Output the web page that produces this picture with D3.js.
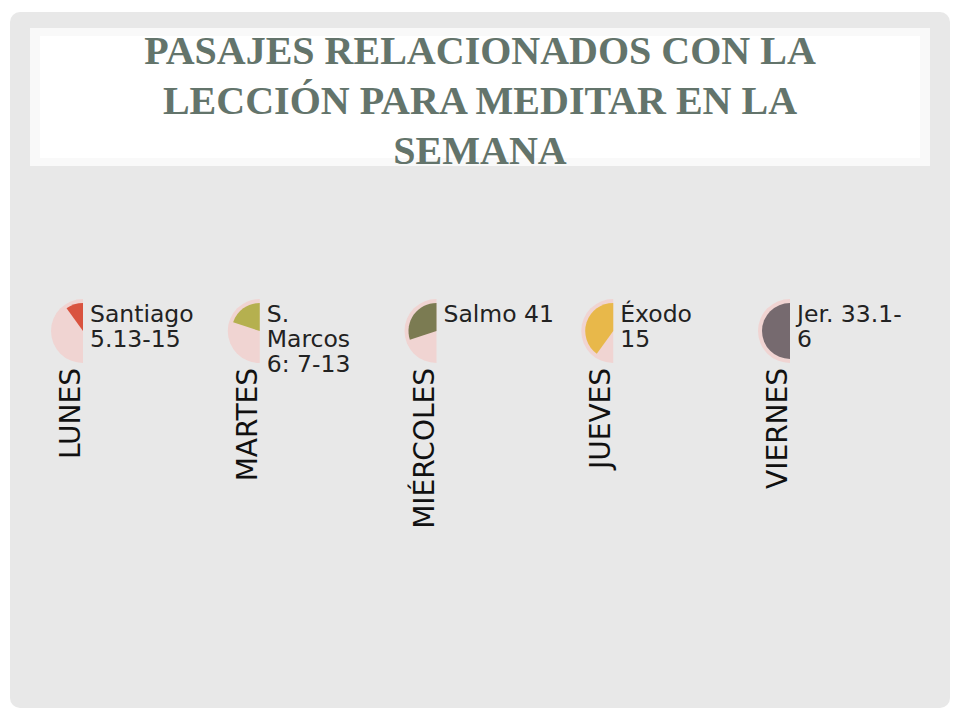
<!DOCTYPE html><html><head><meta charset="utf-8"><script src="https://cdn.jsdelivr.net/npm/d3@7"></script>
<style>body{margin:0;background:#fff}</style></head><body><svg width="960" height="720"></svg><script>
const days=["LUNES","MARTES","MIÉRCOLES","JUEVES","VIERNES"];
const passages=[["Santiago","5.13-15"],["S.","Marcos","6: 7-13"],["Salmo 41"],["Éxodo","15"],["Jer. 33.1-","6"]];
const fractions=[0.2,0.4,0.6,0.8,1.0];
const colors=["#d9533f","#b5b04f","#7b7b52","#e8b84a","#766a6f"];
const titleLines=["PASAJES RELACIONADOS CON LA","LECCIÓN PARA MEDITAR EN LA","SEMANA"];
const svg=d3.select("svg");
svg.append("rect").attr("x",10).attr("y",12).attr("width",940).attr("height",696).attr("rx",10).attr("fill","#e8e8e8");
svg.append("rect").attr("x",30).attr("y",28).attr("width",900).attr("height",138).attr("fill","#fff").attr("opacity",0.75);
svg.append("rect").attr("x",40).attr("y",36).attr("width",880).attr("height",122).attr("fill","#fff").attr("opacity",0.9);
svg.selectAll(".t").data(titleLines).join("text").attr("x",480).attr("y",(d,i)=>64+i*50)
 .attr("text-anchor","middle").attr("font-family","Liberation Serif, serif").attr("font-weight","bold").attr("font-size",40)
 .attr("fill","#63746b").text(d=>d);
const x=d3.scalePoint().domain(days).range([83,790]);
const ang=d3.scaleLinear().domain([0,1]).range([0,-Math.PI]);
const g=svg.selectAll(".d").data(days).join("g").attr("transform",d=>`translate(${x(d)},331)`);
g.append("path").attr("d",d3.arc()({innerRadius:0,outerRadius:32,startAngle:0,endAngle:-Math.PI})).attr("fill","#f0d4d2");
g.append("path").attr("d",(d,i)=>d3.arc()({innerRadius:0,outerRadius:28,startAngle:0,endAngle:ang(fractions[i])})).attr("fill",(d,i)=>colors[i]);
g.append("text").attr("transform","rotate(-90)").attr("x",-37).attr("y",-3).attr("text-anchor","end")
 .attr("font-family","DejaVu Sans, sans-serif").attr("font-size",28).attr("textLength",null).attr("fill","#111").text(d=>d);
g.each(function(d,i){const t=d3.select(this).append("text").attr("font-family","DejaVu Sans, sans-serif").attr("font-size",23.5).attr("fill","#222");
 passages[i].forEach((l,j)=>t.append("tspan").attr("x",7).attr("y",-9+j*25).text(l));});
</script></body></html>
